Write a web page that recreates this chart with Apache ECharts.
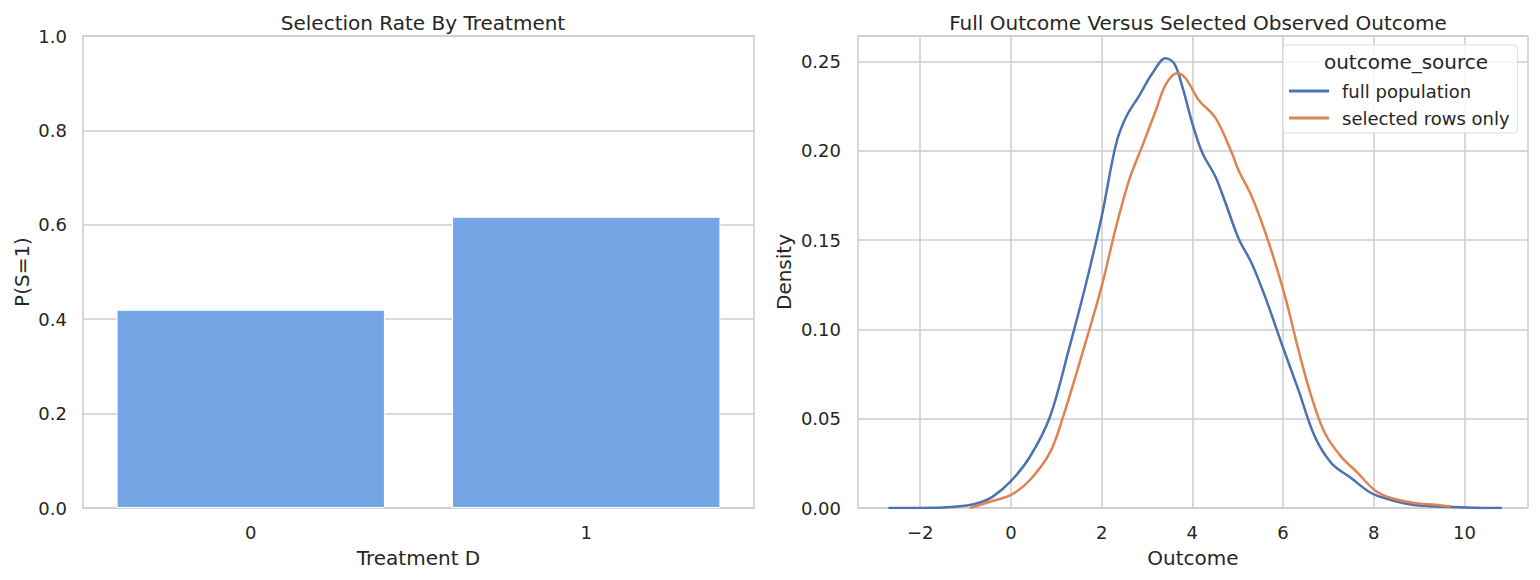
<!DOCTYPE html>
<html>
<head>
<meta charset="utf-8">
<script src="https://cdn.jsdelivr.net/npm/echarts@6/dist/echarts.min.js"></script>
<style>
  html, body { margin: 0; padding: 0; background: #fff; }
  #chart { width: 1540px; height: 580px; }
</style>
</head>
<body>
<div id="chart"></div>
<script>
// left panel: selection rate per treatment arm
var treatments = ['0', '1'];
var selectionRate = [0.42, 0.617];

// right panel: KDE curves
var fullX = [-2.7, -1.5, -0.97, -0.68, -0.39, 0, 0.42, 0.86, 1.29, 1.66, 2.0, 2.32, 2.54, 2.83, 3.12, 3.41,
  3.6, 3.78, 4.0, 4.22, 4.51, 4.73, 5.02, 5.31, 5.61, 5.97, 6.34, 6.7, 7.07, 7.5, 7.94, 8.38, 8.9, 9.6, 10.2, 10.82];
var fullY = [0, 0.0003, 0.0014, 0.0031, 0.0065, 0.015, 0.0287, 0.051, 0.090, 0.126, 0.163, 0.204, 0.219, 0.231, 0.2435, 0.252,
  0.249, 0.236, 0.2155, 0.199, 0.1856, 0.171, 0.151, 0.137, 0.118, 0.092, 0.066, 0.040, 0.025, 0.0168, 0.0084, 0.0045, 0.0017, 0.0007, 0.0002, 0];
var selX = [-0.9, -0.46, 0, 0.42, 0.86, 1.15, 1.58, 2.0, 2.32, 2.61, 2.9, 3.2, 3.41, 3.66, 3.85, 4.14, 4.51, 4.87,
  5.02, 5.31, 5.68, 6.05, 6.34, 6.63, 6.92, 7.28, 7.65, 8.02, 8.38, 8.9, 9.4, 9.7];
var selY = [0, 0.0035, 0.0073, 0.0157, 0.031, 0.051, 0.087, 0.124, 0.1576, 0.184, 0.203, 0.223, 0.237, 0.2435, 0.2407, 0.2286, 0.2185, 0.199,
  0.189, 0.1745, 0.149, 0.118, 0.0885, 0.062, 0.042, 0.0288, 0.0196, 0.010, 0.0056, 0.0028, 0.0017, 0.0008];
var outcomeTicks = [-2, 0, 2, 4, 6, 8, 10];
var seriesNames = ['full population', 'selected rows only'];

function zip(xs, ys) {
  return xs.map(function (x, i) { return [x, ys[i]]; });
}

var FONT = 'DejaVu Sans';
var INK = '#262626';
var GRID = '#cccccc';

var chart = echarts.init(document.getElementById('chart'), null, {renderer: 'svg'});

var option = {
  animation: false,
  textStyle: {fontFamily: FONT, color: INK},
  title: [{
    text: 'Selection Rate By Treatment',
    left: 418, top: 8, textAlign: 'center',
    textStyle: {fontFamily: FONT, fontSize: 20, fontWeight: 'normal', color: INK}
  }, {
    text: 'Full Outcome Versus Selected Observed Outcome',
    left: 1193, top: 8, textAlign: 'center',
    textStyle: {fontFamily: FONT, fontSize: 20, fontWeight: 'normal', color: INK}
  }, {
    text: 'outcome_source',
    left: 1401, top: 47, textAlign: 'center',
    textStyle: {fontFamily: FONT, fontSize: 20, fontWeight: 'normal', color: INK}
  }],
  grid: [
    {left: 83, top: 36, width: 671, height: 472, show: true, borderColor: GRID, borderWidth: 1.5},
    {left: 858, top: 36, width: 670, height: 472, show: true, borderColor: GRID, borderWidth: 1.5}
  ],
  legend: {
    data: seriesNames,
    orient: 'vertical',
    left: 1283, top: 45,
    width: 237,
    padding: [37, 8, 6, 6],
    itemGap: 9,
    itemWidth: 40, itemHeight: 3,
    icon: 'rect',
    backgroundColor: 'rgba(255,255,255,0.8)',
    borderColor: '#dddddd', borderWidth: 1, borderRadius: 4,
    textStyle: {fontFamily: FONT, fontSize: 18, color: INK, padding: [0, 0, 0, 8]}
  },
  xAxis: [{
    gridIndex: 0,
    type: 'category',
    data: treatments,
    name: 'Treatment D',
    nameLocation: 'middle', nameGap: 40,
    nameTextStyle: {fontFamily: FONT, fontSize: 20, color: INK},
    axisLine: {show: false},
    axisTick: {show: false},
    axisLabel: {fontFamily: FONT, fontSize: 18, color: INK, margin: 15},
    splitLine: {show: false}
  }, {
    gridIndex: 1,
    type: 'value',
    min: -3.37, max: 11.4,
    name: 'Outcome',
    nameLocation: 'middle', nameGap: 40,
    nameTextStyle: {fontFamily: FONT, fontSize: 20, color: INK},
    axisLine: {show: false},
    axisTick: {show: false, customValues: outcomeTicks},
    axisLabel: {
      fontFamily: FONT, fontSize: 18, color: INK, margin: 15,
      customValues: outcomeTicks,
      formatter: function (v) { return v < 0 ? '\u2212' + Math.abs(v) : String(v); }
    },
    splitLine: {show: true, lineStyle: {color: GRID, width: 1.5}}
  }],
  yAxis: [{
    gridIndex: 0,
    type: 'value',
    min: 0, max: 1, interval: 0.2,
    name: 'P(S=1)',
    nameLocation: 'middle', nameGap: 51,
    nameTextStyle: {fontFamily: FONT, fontSize: 20, color: INK},
    axisLine: {show: false},
    axisTick: {show: false},
    axisLabel: {fontFamily: FONT, fontSize: 18, color: INK, margin: 16,
      formatter: function (v) { return v.toFixed(1); }},
    splitLine: {show: true, lineStyle: {color: GRID, width: 1.5}}
  }, {
    gridIndex: 1,
    type: 'value',
    min: 0, max: 0.2644, interval: 0.05,
    name: 'Density',
    nameLocation: 'middle', nameGap: 64,
    nameTextStyle: {fontFamily: FONT, fontSize: 20, color: INK},
    axisLine: {show: false},
    axisTick: {show: false},
    axisLabel: {fontFamily: FONT, fontSize: 18, color: INK, margin: 17,
      showMaxLabel: false,
      formatter: function (v) { return v.toFixed(2); }},
    splitLine: {show: true, lineStyle: {color: GRID, width: 1.5}}
  }],
  series: [{
    type: 'bar',
    xAxisIndex: 0, yAxisIndex: 0,
    data: selectionRate,
    barCategoryGap: '20%',
    itemStyle: {color: '#74a6e5', borderColor: '#ffffff', borderWidth: 1},
    silent: true
  }, {
    name: seriesNames[0],
    type: 'line',
    xAxisIndex: 1, yAxisIndex: 1,
    data: zip(fullX, fullY),
    smooth: 0.35,
    showSymbol: false,
    lineStyle: {color: '#4c72b0', width: 2.5},
    itemStyle: {color: '#4c72b0'}
  }, {
    name: seriesNames[1],
    type: 'line',
    xAxisIndex: 1, yAxisIndex: 1,
    data: zip(selX, selY),
    smooth: 0.35,
    showSymbol: false,
    lineStyle: {color: '#dd8452', width: 2.5},
    itemStyle: {color: '#dd8452'}
  }]
};

chart.setOption(option);
</script>
</body>
</html>
